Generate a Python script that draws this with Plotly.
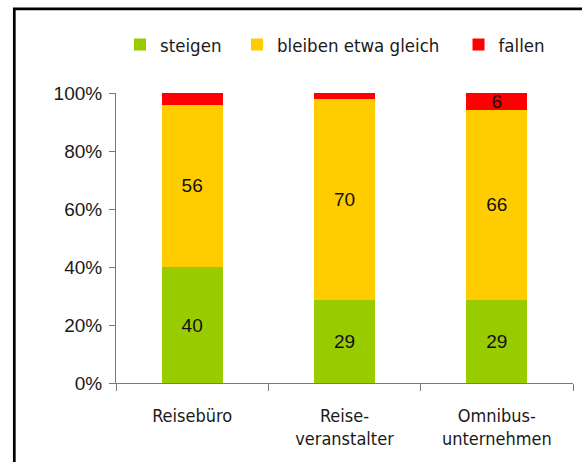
import plotly.graph_objects as go

# ---- data ----
categories = ["Reisebüro", "Reise-<br>veranstalter", "Omnibus-<br>unternehmen"]
series_names = ["steigen", "bleiben etwa gleich", "fallen"]
steigen = [40, 29, 29]
bleiben = [56, 70, 66]
fallen = [4, 2, 6]
y_tickvals = [0, 20, 40, 60, 80, 100]
y_ticktext = ["0%", "20%", "40%", "60%", "80%", "100%"]

colors = ["#99CC00", "#FFCC00", "#FF0000"]
series_values = [steigen, bleiben, fallen]
legend_ids = ["legend", "legend2", "legend3"]

LABEL_FONT = "Liberation Sans, Arial, sans-serif"
COND_FONT = "DejaVu Sans Condensed, DejaVu Sans, sans-serif"

W, H = 582, 462
ML, MR, MT, MB = 116, 9, 93, 79
PW, PH = W - ML - MR, H - MT - MB

fig = go.Figure()
for name, vals, col, lg in zip(series_names, series_values, colors, legend_ids):
    fig.add_trace(go.Bar(
        x=categories, y=vals, name=name, legend=lg,
        marker=dict(color=col, line=dict(width=0)),
        width=0.4,
        text=[str(v) if v >= 5 else "" for v in vals],
        textposition="inside", insidetextanchor="middle", textangle=0,
        constraintext="none",
        textfont=dict(family=LABEL_FONT, size=19, color="#111111"),
        hoverinfo="skip",
    ))

def px_to_paper_x(px):
    return (px - ML) / PW

def px_to_paper_y(py):
    return (H - MB - py) / PH

x0 = px_to_paper_x(14.3)
yt = px_to_paper_y(8.8)
yb = px_to_paper_y(475)
xr = px_to_paper_x(595)

legend_common = dict(orientation="h", xref="container", yref="container",
                     xanchor="left", yanchor="middle", bgcolor="rgba(0,0,0,0)",
                     borderwidth=0,
                     font=dict(family=COND_FONT, size=18.5, color="#1a1a1a"))
leg_y = 1 - 45 / H

fig.update_layout(
    width=W, height=H,
    margin=dict(l=ML, r=MR, t=MT, b=MB, autoexpand=False),
    paper_bgcolor="white", plot_bgcolor="white",
    barmode="stack", barnorm="percent",
    showlegend=True,
    legend=dict(x=120 / W, y=leg_y, **legend_common),
    legend2=dict(x=237 / W, y=leg_y, **legend_common),
    legend3=dict(x=458.5 / W, y=leg_y, **legend_common),
    xaxis=dict(
        type="category", range=[-0.5, 2.5],
        showline=True, linecolor="#7a7a7a", linewidth=1,
        ticks="outside", tickson="boundaries", ticklen=7, tickcolor="#7a7a7a",
        ticklabelstandoff=16,
        tickfont=dict(family=COND_FONT, size=18, color="#1a1a1a"),
        showgrid=False, zeroline=False,
    ),
    yaxis=dict(
        range=[0, 100], tickvals=y_tickvals, ticktext=y_ticktext,
        showline=True, linecolor="#7a7a7a", linewidth=1,
        ticks="outside", ticklen=6, tickcolor="#7a7a7a",
        ticklabelstandoff=3,
        tickfont=dict(family=LABEL_FONT, size=19, color="#1a1a1a"),
        showgrid=False, zeroline=False,
    ),
    shapes=[dict(type="path", xref="paper", yref="paper",
                 path=f"M {x0},{yb} L {x0},{yt} L {xr},{yt}",
                 line=dict(color="black", width=2.7))],
)

fig.write_html("out.html", config={"displayModeBar": False},
               post_script="document.body.style.margin='0';")
